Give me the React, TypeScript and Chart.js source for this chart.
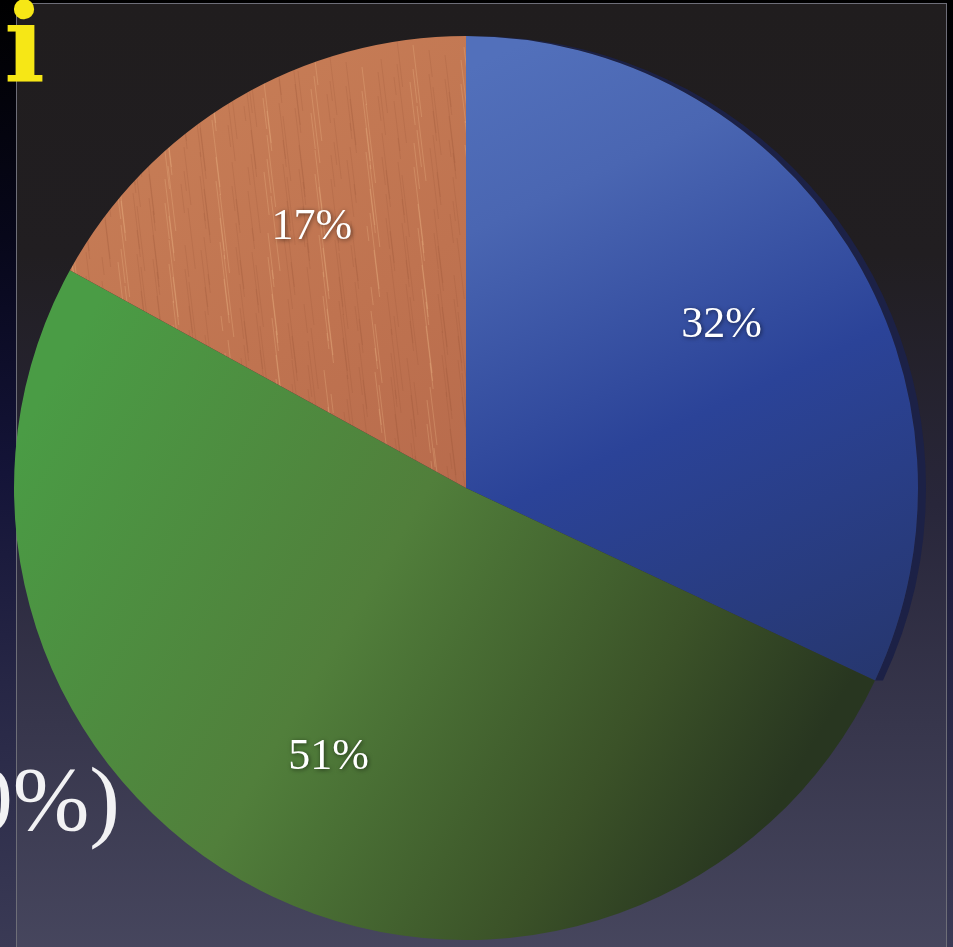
import React, { useEffect, useRef } from "react";
import { Chart, registerables } from "chart.js";

Chart.register(...registerables);

const categories: string[] = ["Blue", "Green", "Copper"];
const values: number[] = [32, 51, 17];
const labelTexts: string[] = ["32%", "51%", "17%"];

let copperPattern: CanvasPattern | null = null;

function makeCopperPattern(ctx: CanvasRenderingContext2D): CanvasPattern | string {
  if (copperPattern) return copperPattern;
  const c = document.createElement("canvas");
  c.width = 953;
  c.height = 1000;
  const g = c.getContext("2d");
  if (!g) return "#bf7352";
  const base = g.createLinearGradient(100, 0, 500, 600);
  base.addColorStop(0, "#c98058");
  base.addColorStop(0.5, "#bf7350");
  base.addColorStop(1, "#b3664a");
  g.fillStyle = base;
  g.fillRect(0, 0, 953, 1000);
  for (let i = 0; i < 2600; i++) {
    const x = (i * 37 + ((i * 13) % 7)) % 953;
    const len = 15 + ((i * 53) % 70);
    const y0 = (i * 71) % 1000;
    g.strokeStyle = i % 3 === 0 ? "rgba(240,190,140,0.28)" : "rgba(145,75,50,0.18)";
    g.lineWidth = 1;
    g.beginPath();
    g.moveTo(x, y0);
    g.lineTo(x + len * 0.12, y0 + len);
    g.stroke();
  }
  copperPattern = ctx.createPattern(c, "no-repeat");
  return copperPattern || "#bf7352";
}

function sliceFill(context: any) {
  const chart = context.chart;
  const area = chart.chartArea;
  if (!area) return "#888";
  const ctx: CanvasRenderingContext2D = chart.ctx;
  const cx = (area.left + area.right) / 2;
  const cy = (area.top + area.bottom) / 2;
  const r = Math.min(area.right - area.left, area.bottom - area.top) / 2;
  const i = context.dataIndex;
  if (i === 0) {
    const g = ctx.createLinearGradient(cx + 0.05 * r, cy - 0.95 * r, cx + 0.75 * r, cy + 0.55 * r);
    g.addColorStop(0, "#5270bb");
    g.addColorStop(0.2, "#4a66b2");
    g.addColorStop(0.55, "#2b4398");
    g.addColorStop(1, "#26366c");
    return g;
  }
  if (i === 1) {
    const g = ctx.createLinearGradient(cx - r, cy - 0.1 * r, cx + 0.6 * r, cy + 0.85 * r);
    g.addColorStop(0, "#4a9c45");
    g.addColorStop(0.45, "#517f3b");
    g.addColorStop(0.8, "#3b5228");
    g.addColorStop(1, "#283620");
    return g;
  }
  return makeCopperPattern(ctx);
}

const rimPlugin = {
  id: "rim",
  beforeDatasetsDraw(chart: any) {
    const meta = chart.getDatasetMeta(0);
    const arc = meta.data[0];
    if (!arc) return;
    const p = arc.getProps(["x", "y", "outerRadius", "startAngle", "endAngle"], true);
    const ctx: CanvasRenderingContext2D = chart.ctx;
    ctx.save();
    ctx.fillStyle = "#1c2146";
    ctx.beginPath();
    ctx.arc(p.x + 8, p.y, p.outerRadius, p.startAngle, p.endAngle);
    ctx.arc(p.x, p.y, p.outerRadius, p.endAngle, p.startAngle, true);
    ctx.closePath();
    ctx.fill();
    ctx.restore();
  },
};

const labelPlugin = {
  id: "sliceLabels",
  afterDatasetsDraw(chart: any) {
    const ctx: CanvasRenderingContext2D = chart.ctx;
    const meta = chart.getDatasetMeta(0);
    ctx.save();
    ctx.font = "44px 'Liberation Serif', 'DejaVu Serif', serif";
    ctx.fillStyle = "#ffffff";
    ctx.textAlign = "center";
    ctx.textBaseline = "middle";
    ctx.shadowColor = "rgba(0,0,0,0.55)";
    ctx.shadowBlur = 4;
    ctx.shadowOffsetX = 1;
    ctx.shadowOffsetY = 1;
    meta.data.forEach((arc: any, i: number) => {
      const p = arc.getProps(["x", "y", "startAngle", "endAngle", "outerRadius"], true);
      const mid = (p.startAngle + p.endAngle) / 2;
      const rr = p.outerRadius * 0.67;
      ctx.fillText(labelTexts[i], p.x + Math.cos(mid) * rr, p.y + Math.sin(mid) * rr);
    });
    ctx.restore();
  },
};

export default function App() {
  const ref = useRef<HTMLCanvasElement>(null);
  useEffect(() => {
    if (!ref.current) return;
    copperPattern = null;
    const chart = new Chart(ref.current, {
      type: "pie",
      data: {
        labels: categories,
        datasets: [
          {
            data: values,
            backgroundColor: sliceFill as any,
            borderWidth: 0,
            hoverOffset: 0,
          },
        ],
      },
      options: {
        responsive: false,
        animation: false,
        layout: { padding: 0 },
        plugins: {
          legend: { display: false },
          tooltip: { enabled: false },
        },
      },
      plugins: [rimPlugin, labelPlugin],
    });
    return () => chart.destroy();
  }, []);

  return (
    <div
      style={{
        position: "fixed",
        left: 0,
        top: 0,
        width: 953,
        height: 947,
        overflow: "hidden",
        background:
          "linear-gradient(180deg, #000000 0%, #07071a 25%, #141438 50%, #262645 72%, #3a3a55 100%)",
      }}
    >
      <div
        style={{
          position: "absolute",
          left: 16,
          top: 3,
          width: 929,
          height: 1000,
          borderLeft: "1px solid #6e6e78",
          borderTop: "1px solid #6e6e78",
          borderRight: "1px solid #6e6e78",
          background:
            "linear-gradient(180deg, #201d1e 0%, #211e21 25%, #28263a 50%, #37364c 72%, #4a4a62 100%)",
        }}
      />
      <div
        style={{
          position: "absolute",
          left: 4,
          top: -10,
          fontFamily: "'DejaVu Serif', serif",
          fontWeight: "bold",
          fontSize: 108,
          lineHeight: "108px",
          color: "#f6e716",
          whiteSpace: "nowrap",
        }}
      >
        i
      </div>
      <div
        style={{
          position: "absolute",
          right: 833,
          top: 753,
          fontFamily: "'Liberation Serif', serif",
          fontSize: 92,
          lineHeight: "92px",
          color: "#f2f2f4",
          whiteSpace: "nowrap",
        }}
      >
        0%)
      </div>
      <canvas
        ref={ref}
        width={920}
        height={904}
        style={{ position: "absolute", left: 6, top: 36, width: 920, height: 904 }}
      />
    </div>
  );
}
